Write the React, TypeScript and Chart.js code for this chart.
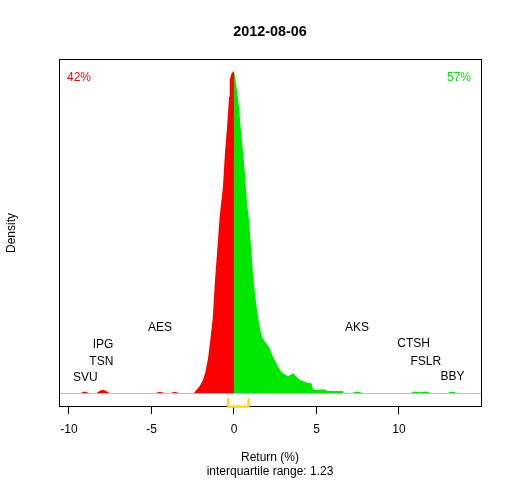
import React, { useEffect, useRef } from 'react';
import { Chart, registerables } from 'chart.js';

Chart.register(...registerables);

const chartTitle = '2012-08-06';
const xAxisTitle = 'Return (%)';
const iqrText = 'interquartile range: 1.23';
const yAxisTitle = 'Density';
const shareDown = '42%';
const shareUp = '57%';

const xTicks = [-10, -5, 0, 5, 10];

// negative returns (red density part)
const redX = [-9.35, -9.05, -8.75, -8.34, -8.14, -7.96, -7.77, -7.53, -4.81, -4.5, -4.14, -3.9, -3.59, -3.29,
  -2.44, -2.28, -2.08, -1.88, -1.73, -1.58, -1.43, -1.29, -1.15, -1.03, -0.87, -0.67, -0.55, -0.42, -0.3, -0.26, -0.14, 0];
const redY = [0, 0.0024, 0, 0, 0.0035, 0.0049, 0.0035, 0, 0, 0.002, 0, 0, 0.002, 0,
  0, 0.0046, 0.0102, 0.0186, 0.03, 0.048, 0.076, 0.105, 0.159, 0.196, 0.247, 0.289, 0.336, 0.373, 0.415, 0.439, 0.448, 0.451];

// positive returns (green density part)
const greenX = [0, 0.06, 0.18, 0.3, 0.42, 0.55, 0.67, 0.79, 0.91, 1.03, 1.15, 1.27, 1.39, 1.52, 1.64, 1.76, 1.96,
  2.16, 2.36, 2.57, 2.77, 2.97, 3.27, 3.58, 3.88, 3.98, 4.39, 4.69, 4.79, 5.0, 5.44, 5.68, 6.59, 6.65,
  7.07, 7.47, 7.86, 10.65, 10.95, 11.26, 11.65, 11.98, 12.87, 13.22, 13.58];
const greenY = [0.451, 0.443, 0.424, 0.401, 0.368, 0.336, 0.305, 0.266, 0.243, 0.205, 0.168, 0.14, 0.117, 0.098, 0.084, 0.076, 0.07,
  0.063, 0.051, 0.042, 0.033, 0.028, 0.024, 0.028, 0.021, 0.019, 0.015, 0.014, 0.0056, 0.0046, 0.0056, 0.0032, 0.0032, 0,
  0, 0.0024, 0, 0, 0.0024, 0.0015, 0.0024, 0, 0, 0.0024, 0];

const stockNames = ['SVU', 'TSN', 'IPG', 'AES', 'AKS', 'CTSH', 'FSLR', 'BBY'];
const stockX = [-9.01, -8.04, -7.94, -4.48, 7.45, 10.89, 11.62, 13.24];
const stockY = [0.0218, 0.0442, 0.0686, 0.0918, 0.0918, 0.069, 0.0442, 0.0228];

const quartiles = [-0.35, 0.88];

const X_MIN = -10.606;
const X_MAX = 14.97;
const Y_MIN = -0.0178;
const Y_MAX = 0.4664;

const FONT = '"Liberation Sans", Arial, Helvetica, sans-serif';
const RED = '#ff0000';
const GREEN = '#00e800';

const decorPlugin = {
  id: 'decor',
  afterDatasetsDraw(chart: any) {
    const { ctx, chartArea, scales } = chart;
    const xs = scales.x;
    const ys = scales.y;
    const L = Math.floor(chartArea.left) + 0.5;
    const R = Math.floor(chartArea.right) + 0.5;
    const T = Math.floor(chartArea.top) + 0.5;
    const B = Math.floor(chartArea.bottom) + 0.5;
    ctx.save();
    // zero line
    const y0 = ys.getPixelForValue(0);
    ctx.strokeStyle = '#bebebe';
    ctx.lineWidth = 1;
    ctx.beginPath();
    ctx.moveTo(L, Math.round(y0) + 0.5);
    ctx.lineTo(R, Math.round(y0) + 0.5);
    ctx.stroke();
    // box
    ctx.strokeStyle = '#000';
    ctx.lineWidth = 1;
    ctx.strokeRect(L, T, R - L, B - T);
    // IQR bracket
    const q1 = xs.getPixelForValue(quartiles[0]);
    const q3 = xs.getPixelForValue(quartiles[1]);
    ctx.strokeStyle = '#ffd200';
    ctx.lineWidth = 2.2;
    ctx.lineCap = 'round';
    ctx.lineJoin = 'round';
    ctx.beginPath();
    ctx.moveTo(q1, chartArea.bottom - 7);
    ctx.lineTo(q1, chartArea.bottom + 0.7);
    ctx.lineTo(q3, chartArea.bottom + 0.7);
    ctx.lineTo(q3, chartArea.bottom - 7);
    ctx.stroke();
    // stock labels
    ctx.font = `12px ${FONT}`;
    ctx.fillStyle = '#000';
    ctx.textAlign = 'center';
    ctx.textBaseline = 'middle';
    stockNames.forEach((n, i) => {
      ctx.fillText(n, xs.getPixelForValue(stockX[i]), ys.getPixelForValue(stockY[i]));
    });
    // share labels
    ctx.fillStyle = RED;
    ctx.textAlign = 'left';
    ctx.fillText(shareDown, chartArea.left + 8, chartArea.top + 18);
    ctx.fillStyle = GREEN;
    ctx.textAlign = 'right';
    ctx.fillText(shareUp, chartArea.right - 10, chartArea.top + 18);
    ctx.restore();
  },
};

export default function App() {
  const ref = useRef<HTMLCanvasElement | null>(null);
  useEffect(() => {
    if (!ref.current) return;
    const chart = new Chart(ref.current, {
      type: 'line',
      data: {
        datasets: [
          {
            data: redX.map((x, i) => ({ x, y: redY[i] })),
            borderWidth: 0,
            pointRadius: 0,
            fill: 'origin',
            backgroundColor: RED,
            borderColor: RED,
            tension: 0,
          },
          {
            data: greenX.map((x, i) => ({ x, y: greenY[i] })),
            borderWidth: 0,
            pointRadius: 0,
            fill: 'origin',
            backgroundColor: GREEN,
            borderColor: GREEN,
            tension: 0,
          },
        ],
      },
      options: {
        responsive: false,
        animation: false,
        devicePixelRatio: 1,
        layout: { padding: { left: 0, right: 31, top: 0, bottom: 0 } },
        plugins: {
          legend: { display: false },
          tooltip: { enabled: false },
          title: {
            display: true,
            text: chartTitle,
            fullSize: false,
            color: '#000',
            font: { family: FONT, size: 14.4, weight: 'bold', lineHeight: 1.2 },
            padding: { top: 23, bottom: 19.7 },
          },
        },
        scales: {
          x: {
            type: 'linear',
            min: X_MIN,
            max: X_MAX,
            position: 'bottom',
            afterBuildTicks: (s: any) => {
              s.ticks = xTicks.map((v) => ({ value: v }));
            },
            afterFit: (s: any) => {
              s.height = 74;
            },
            grid: { display: true, drawOnChartArea: false, drawTicks: true, tickLength: 8, color: '#000', lineWidth: 1 },
            border: { display: false },
            ticks: { color: '#000', font: { family: FONT, size: 12 }, padding: 8, maxRotation: 0, autoSkip: false },
            title: {
              display: true,
              text: [xAxisTitle, iqrText],
              color: '#000',
              font: { family: FONT, size: 12, lineHeight: 1.2 },
              padding: { top: 0, bottom: 0.8 },
            },
          },
          y: {
            type: 'linear',
            min: Y_MIN,
            max: Y_MAX,
            grid: { display: false },
            border: { display: false },
            ticks: { display: false },
            afterFit: (s: any) => {
              s.width = 59;
            },
            title: {
              display: true,
              text: yAxisTitle,
              color: '#000',
              font: { family: FONT, size: 12, lineHeight: 1.2 },
              padding: { top: 4.8, bottom: 0 },
            },
          },
        },
      },
      plugins: [decorPlugin],
    } as any);
    return () => chart.destroy();
  }, []);
  return (
    <div style={{ position: 'fixed', left: 0, top: 0, width: 512, height: 480, background: '#fff' }}>
      <canvas ref={ref} width={512} height={480} style={{ width: 512, height: 480 }} />
    </div>
  );
}
